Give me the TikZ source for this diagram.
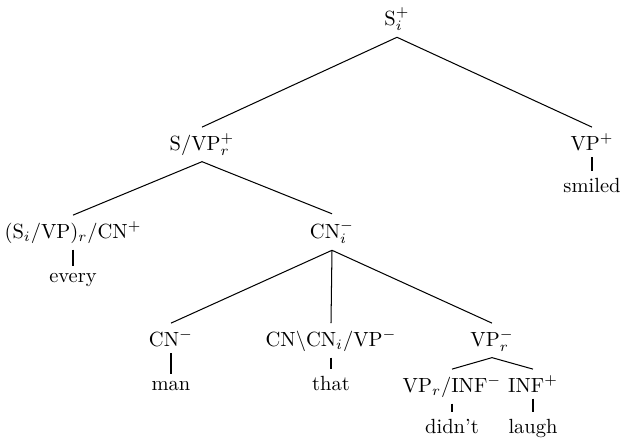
\documentclass[tikz,border=0pt]{standalone}
\usepackage{amsmath,amssymb}
\usepackage{tikz}

\begin{document}
\begin{tikzpicture}[
  x=0.4878pt, y=-0.4878pt,
  cat/.style={anchor=base, inner sep=3pt},
  word/.style={anchor=base, inner sep=3pt},
  branch/.style={line width=0.5pt},
  lex/.style={line width=0.5pt}
]
\useasboundingbox (0,0) rectangle (621,440);

% categories
\node[cat] (s)    at (397,25)  {S$_i^+$};
\node[cat] (svp)  at (202,150) {S/VP$_r^+$};
\node[cat] (vp)   at (592,150) {VP$^+$};
\node[cat] (det)  at (73,238)  {(S$_i$/VP)$_r$/CN$^+$};
\node[cat] (cni)  at (332,238) {CN$_i^-$};
\node[cat] (cn)   at (171,346) {CN$^-$};
\node[cat] (rel)  at (331,346) {CN$\backslash$CN$_i$/VP$^-$};
\node[cat] (vpr)  at (492,346) {VP$_r^-$};
\node[cat] (aux)  at (452,392) {VP$_r$/INF$^-$};
\node[cat] (inf)  at (533,392) {INF$^+$};

% words
\node[word] (smiled) at (592,192) {smiled};
\node[word] (every)  at (73,282)  {every};
\node[word] (man)    at (171,390) {man};
\node[word] (that)   at (331,390) {that};
\node[word] (didnt)  at (452,433) {didn't};
\node[word] (laugh)  at (533,433) {laugh};

% branches
\draw[branch] (s.south) -- (svp.north);
\draw[branch] (s.south) -- (vp.north);
\draw[branch] (svp.south) -- (det.north);
\draw[branch] (svp.south) -- (cni.north);
\draw[branch] (cni.south) -- (cn.north);
\draw[branch] (cni.south) -- (rel.north);
\draw[branch] (cni.south) -- (vpr.north);
\draw[branch] (vpr.south) -- (aux.north);
\draw[branch] (vpr.south) -- (inf.north);

% lexical items
\draw[lex] (vp.south) -- (smiled.north);
\draw[lex] (det.south) -- (every.north);
\draw[lex] (cn.south) -- (man.north);
\draw[lex] (rel.south) -- (that.north);
\draw[lex] (aux.south) -- (didnt.north);
\draw[lex] (inf.south) -- (laugh.north);
\end{tikzpicture}
\end{document}
